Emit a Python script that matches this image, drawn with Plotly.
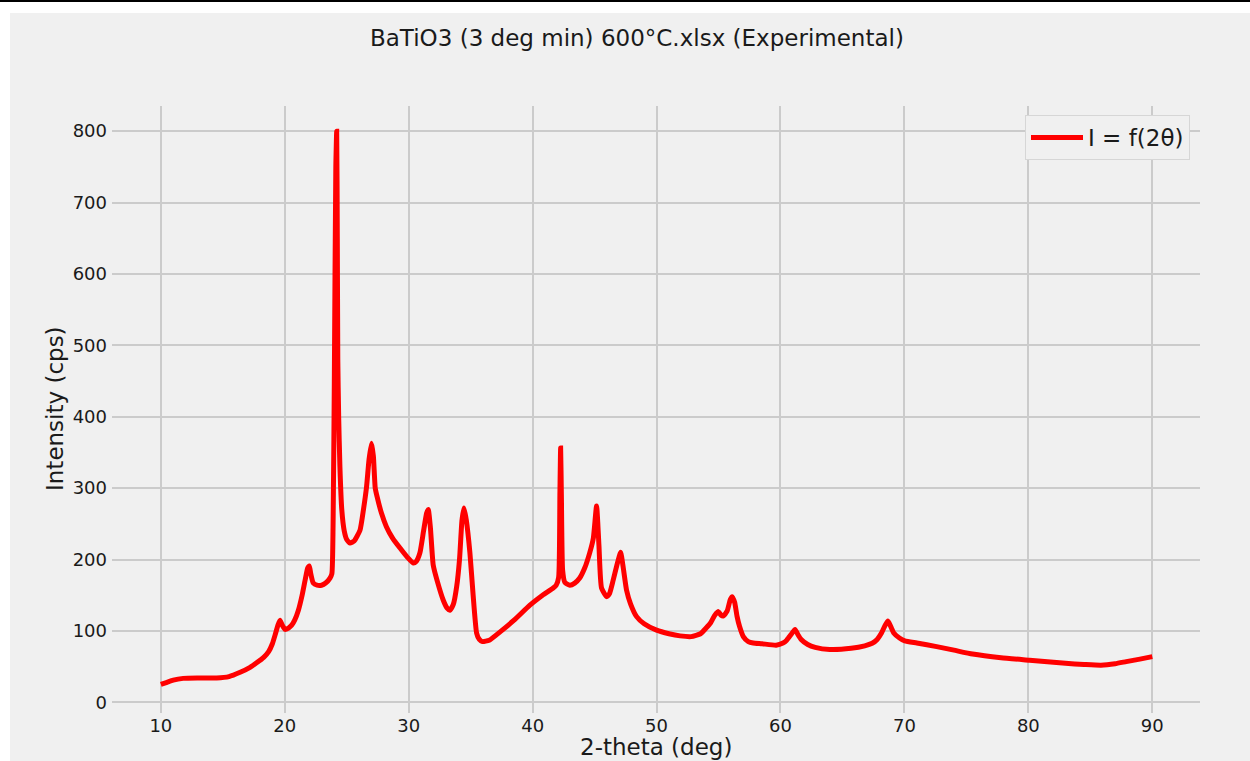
import plotly.graph_objects as go

# 2-theta (deg) values
two_theta = [
    10.0, 10.5, 11.0, 11.8, 13.0, 14.5, 15.5, 16.4, 17.2, 17.7, 18.3, 18.7, 19.0, 19.25, 19.45,
    19.62, 19.8, 20.03, 20.3, 20.56, 20.8, 21.1, 21.4, 21.64, 21.85, 21.98, 22.1, 22.3, 22.6,
    22.97, 23.3, 23.65, 23.8, 23.9, 24.0, 24.12, 24.19, 24.24, 24.28, 24.35, 24.45, 24.6, 24.8,
    25.0, 25.27, 25.6, 26.07, 26.35, 26.6, 26.8, 27.0, 27.15, 27.3, 27.45, 27.8, 28.2, 28.7,
    29.3, 29.9, 30.37, 30.6, 30.9, 31.2, 31.45, 31.58, 31.75, 31.98, 32.3, 32.79, 33.1, 33.33,
    33.6, 33.87, 34.1, 34.3, 34.46, 34.65, 34.94, 35.2, 35.48, 35.7, 35.95, 36.5, 37.4, 38.5,
    39.78, 40.8, 41.66, 41.9, 42.1, 42.2, 42.26, 42.32, 42.42, 42.6, 43.0, 43.4, 43.8, 44.2,
    44.6, 44.9, 45.16, 45.35, 45.56, 45.97, 46.2, 46.5, 46.8, 47.1, 47.3, 47.58, 47.9, 48.39,
    49.0, 50.0, 51.0, 51.9, 52.8, 53.55, 54.0, 54.35, 54.7, 55.0, 55.2, 55.4, 55.7, 55.95,
    56.1, 56.3, 56.5, 56.7, 57.0, 57.4, 57.8, 58.5, 59.65, 60.2, 60.5, 60.9, 61.17, 61.4,
    61.67, 62.2, 62.8, 63.97, 65.7, 66.8, 67.4, 67.8, 68.15, 68.45, 68.67, 68.9, 69.16, 69.6,
    70.03, 71.0, 72.6, 74.0, 75.5, 77.8, 80.1, 83.0, 84.5, 85.86, 87.0, 87.9, 89.0, 90.0,
]

# Intensity (cps) values
intensity = [
    25, 28, 31, 33.5, 34, 34, 36, 42, 49, 55, 63, 71, 82, 96, 108,
    115, 108, 102, 104, 108, 115, 129, 150, 171, 188, 191, 180, 167, 164,
    164, 167, 174, 180, 250, 450, 750, 800, 650, 480, 400, 330, 270, 240,
    228, 223, 226, 241, 270, 302, 340, 363, 345, 300, 288, 265, 246, 230,
    216, 203, 195, 197, 209, 240, 265, 270, 245, 192, 170, 143, 132, 129,
    137, 162, 200, 255, 272, 255, 209, 150, 97, 88, 85, 87, 99, 115,
    136, 150, 160, 164, 175, 290, 356, 290, 185, 168, 164, 167, 174, 188,
    209, 230, 275, 220, 160, 148, 152, 171, 192, 210, 190, 157, 138, 120,
    110, 101, 96, 93, 92, 96, 104, 111, 122, 127, 122, 121, 128, 144,
    148, 140, 120, 106, 92, 85, 83, 82, 80, 83, 87, 96, 102, 95,
    88, 81, 77, 74, 75.6, 79, 82.6, 88, 97, 108, 114, 106, 96.6, 90,
    86, 83, 78, 73, 67.6, 62.5, 59, 54.6, 53, 52, 54, 57, 60.5, 64,
]

x_ticks = [10, 20, 30, 40, 50, 60, 70, 80, 90]
y_ticks = [0, 100, 200, 300, 400, 500, 600, 700, 800]

title_text = "BaTiO3 (3 deg min) 600°C.xlsx (Experimental)"
x_label = "2-theta (deg)"
y_label = "Intensity (cps)"
series_name = "I = f(2θ)"

W, H = 1250, 761
L, R, T, B = 112, 1200, 106, 713  # plot area in pixels
pw, ph = R - L, B - T


def px(x):
    return (x - L) / pw


def py(y):
    return (B - y) / ph


FONT = "DejaVu Sans"
TXT = "#1a1a1a"
BG = "#f0f0f0"
GRID = "#cbcbcb"
LABEL_SIZE = 23
TICK_SIZE = 18

fig = go.Figure()
fig.add_trace(go.Scatter(
    x=two_theta, y=intensity, mode="lines", name=series_name,
    line=dict(color="#ff0000", width=5, shape="spline", smoothing=0.5),
))

fig.update_layout(
    width=W, height=H,
    margin=dict(l=L, r=W - R, t=T, b=H - B, pad=0),
    paper_bgcolor=BG, plot_bgcolor=BG,
    font=dict(family=FONT, color=TXT, size=TICK_SIZE),
    showlegend=True,
    legend=dict(
        x=px(1190), y=py(115), xanchor="right", yanchor="top",
        bgcolor=BG, bordercolor="#d6d6d6", borderwidth=1,
        itemwidth=52,
        font=dict(family=FONT, size=LABEL_SIZE, color=TXT),
    ),
    xaxis=dict(
        range=[6.06, 93.85], tickvals=x_ticks, ticktext=[str(v) for v in x_ticks],
        showgrid=True, gridcolor=GRID, gridwidth=1.5, zeroline=False,
        showline=False, ticks="", tickfont=dict(size=TICK_SIZE, family=FONT, color=TXT),
    ),
    yaxis=dict(
        range=[-15, 835.2], tickvals=y_ticks, ticktext=[str(v) for v in y_ticks],
        showgrid=True, gridcolor=GRID, gridwidth=1.5, zeroline=False,
        showline=False, ticks="", ticklabelstandoff=4,
        tickfont=dict(size=TICK_SIZE, family=FONT, color=TXT),
    ),
    shapes=[
        dict(type="rect", xref="paper", yref="paper", x0=px(0), x1=px(W), y0=py(0), y1=py(13),
             fillcolor="white", line=dict(width=0), layer="above"),
        dict(type="rect", xref="paper", yref="paper", x0=px(0), x1=px(10), y0=py(0), y1=py(H),
             fillcolor="white", line=dict(width=0), layer="above"),
        dict(type="rect", xref="paper", yref="paper", x0=px(0), x1=px(W), y0=py(0), y1=py(2),
             fillcolor="black", line=dict(width=0), layer="above"),
    ],
    annotations=[
        dict(text=title_text, xref="paper", yref="paper", x=px(637), y=py(38),
             xanchor="center", yanchor="middle", showarrow=False,
             font=dict(family=FONT, size=LABEL_SIZE, color=TXT)),
        dict(text=x_label, xref="paper", yref="paper", x=px(656), y=py(747),
             xanchor="center", yanchor="middle", showarrow=False,
             font=dict(family=FONT, size=LABEL_SIZE, color=TXT)),
        dict(text=y_label, xref="paper", yref="paper", x=px(55), y=py(409),
             xanchor="center", yanchor="middle", showarrow=False, textangle=-90,
             font=dict(family=FONT, size=LABEL_SIZE, color=TXT)),
    ],
)

fig.write_html("out.html")
